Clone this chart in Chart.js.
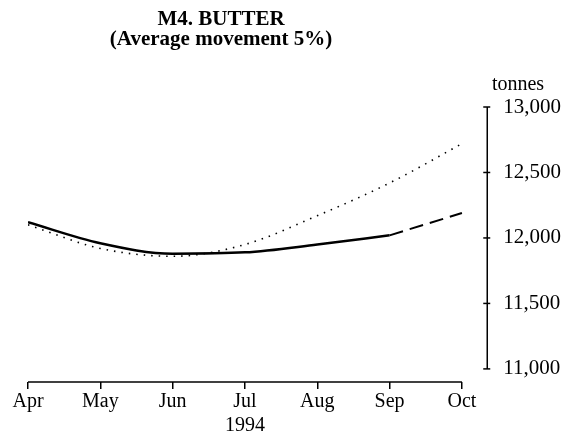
<!DOCTYPE html>
<html>
<head>
<meta charset="utf-8">
<script src="https://cdn.jsdelivr.net/npm/chart.js@4"></script>
<style>
  html, body { margin: 0; padding: 0; background: #fff; }
  #wrap { width: 581px; height: 439px; position: relative; }
</style>
</head>
<body>
<div id="wrap"><canvas id="myChart"></canvas></div>
<script>
const months = ['Apr', 'May', 'Jun', 'Jul', 'Aug', 'Sep', 'Oct'];
const actual = [12120, 11960, 11880, 11890, 11950, 12020, null];
const projected = [null, null, null, null, null, 12020, 12190];
const previous = [12100, 11920, 11860, 11950, 12170, 12420, 12720];
const yTicks = [11000, 11500, 12000, 12500, 13000];

const serif = "'Liberation Serif', 'DejaVu Serif', serif";

function toPoints(arr) {
  return arr.map((v, i) => ({ x: i, y: v }));
}

// axis lines, y tick marks, title and unit label
const extras = {
  id: 'extras',
  afterDraw(chart) {
    const ctx = chart.ctx;
    const xs = chart.scales.x, ys = chart.scales.y;
    const right = chart.chartArea.right;
    const bottom = chart.chartArea.bottom;
    ctx.save();
    ctx.strokeStyle = '#000';
    ctx.lineWidth = 1.5;
    ctx.beginPath();
    ctx.moveTo(xs.getPixelForValue(0), bottom);
    ctx.lineTo(xs.getPixelForValue(months.length - 1), bottom);
    ctx.stroke();
    ctx.beginPath();
    ctx.moveTo(right, ys.getPixelForValue(yTicks[yTicks.length - 1]));
    ctx.lineTo(right, ys.getPixelForValue(yTicks[0]));
    ctx.stroke();
    yTicks.forEach(v => {
      const p = ys.getPixelForValue(v);
      ctx.beginPath();
      ctx.moveTo(right - 4, p);
      ctx.lineTo(right + 3, p);
      ctx.stroke();
    });
    ctx.fillStyle = '#000';
    ctx.textAlign = 'center';
    ctx.textBaseline = 'middle';
    ctx.font = 'bold 21px ' + serif;
    ctx.fillText('M4. BUTTER', 221, 20);
    ctx.fillText('(Average movement 5%)', 221, 40);
    ctx.font = '20px ' + serif;
    ctx.fillText('tonnes', 518, 85);
    ctx.restore();
  }
};

new Chart('myChart', {
  type: 'line',
  data: {
    datasets: [
      { label: 'Actual', data: toPoints(actual), borderColor: '#000', borderWidth: 2.5,
        pointRadius: 0, cubicInterpolationMode: 'monotone' },
      { label: 'Projected', data: toPoints(projected), borderColor: '#000', borderWidth: 2,
        borderDash: [14, 7], pointRadius: 0, cubicInterpolationMode: 'monotone' },
      { label: 'Previous', data: toPoints(previous), borderColor: '#000', borderWidth: 1.6,
        borderDash: [1.5, 6], pointRadius: 0, cubicInterpolationMode: 'monotone' }
    ]
  },
  options: {
    responsive: true,
    maintainAspectRatio: false,
    animation: false,
    layout: { padding: { top: 107, left: 28, right: 12, bottom: 0 } },
    plugins: { legend: { display: false }, tooltip: { enabled: false } },
    scales: {
      x: {
        type: 'linear', min: 0, max: 6.35,
        afterBuildTicks: s => { s.ticks = months.map((m, i) => ({ value: i })); },
        ticks: {
          callback: v => v === 3 ? [months[v], '1994'] : months[v],
          color: '#000', font: { family: serif, size: 20 },
          maxRotation: 0, autoSkip: false, padding: 1
        },
        grid: { drawOnChartArea: false, drawTicks: true, tickLength: 7, color: '#000', lineWidth: 1.5 },
        border: { display: false }
      },
      y: {
        position: 'right', min: 10900, max: 13000,
        afterBuildTicks: s => { s.ticks = yTicks.map(v => ({ value: v })); },
        ticks: {
          callback: v => v.toLocaleString('en-US'),
          color: '#000', font: { family: serif, size: 21 }, padding: 8
        },
        grid: { display: false },
        border: { display: false }
      }
    }
  },
  plugins: [extras]
});
</script>
</body>
</html>
